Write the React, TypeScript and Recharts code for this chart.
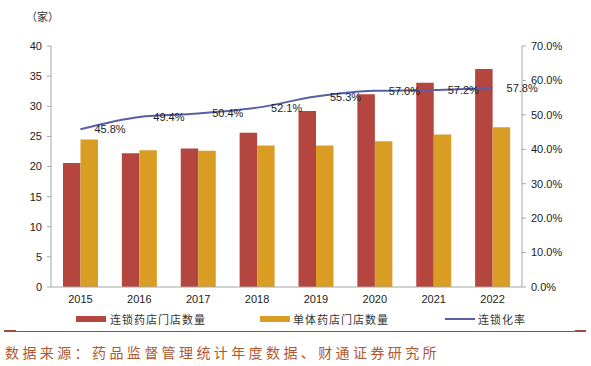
import React from "react";
import { ComposedChart, Bar, Line, XAxis, YAxis, LabelList } from "recharts";

const years = ["2015", "2016", "2017", "2018", "2019", "2020", "2021", "2022"];
const chainStores = [20.6, 22.2, 23.0, 25.6, 29.2, 32.0, 33.9, 36.2];
const singleStores = [24.5, 22.7, 22.6, 23.5, 23.5, 24.2, 25.3, 26.5];
const chainRate = [0.458, 0.494, 0.504, 0.521, 0.553, 0.57, 0.572, 0.578];
const leftTicks = [0, 5, 10, 15, 20, 25, 30, 35, 40];
const rightTicks = [0, 0.1, 0.2, 0.3, 0.4, 0.5, 0.6, 0.7];
const seriesNames = ["连锁药店门店数量", "单体药店门店数量", "连锁化率"];
const unitLabel = "（家）";
const sourceText = "数据来源：药品监督管理统计年度数据、财通证券研究所";

const RED = "#b4463f";
const ORANGE = "#d99d24";
const LINE = "#5a5ea4";

const data = years.map((y, i) => ({
  year: y,
  chain: chainStores[i],
  single: singleStores[i],
  rate: chainRate[i],
}));

const FONT = "'Liberation Sans', Arial, sans-serif";
const CJK = "'Noto Sans CJK SC', sans-serif";

export default function App() {
  return (
    <div style={{ position: "absolute", left: 0, top: 0, width: 591, height: 366, background: "#fff" }}>
      <ComposedChart
        width={591}
        height={312}
        data={data}
        margin={{ top: 46, right: 0, bottom: 0, left: 0 }}
        barGap={0}
      >
        <XAxis
          dataKey="year"
          height={25}
          tickLine={false}
          tickSize={0}
          tickMargin={8}
          axisLine={{ stroke: "#a6a6a6" }}
          tick={{ fontSize: 11, fill: "#222", fontFamily: FONT }}
        />
        <YAxis
          yAxisId="left"
          width={51}
          domain={[0, 40]}
          ticks={leftTicks}
          interval={0}
          tickSize={4}
          tickMargin={5}
          axisLine={{ stroke: "#a6a6a6" }}
          tickLine={{ stroke: "#a6a6a6" }}
          tick={{ fontSize: 11, fill: "#222", fontFamily: FONT }}
        />
        <YAxis
          yAxisId="right"
          orientation="right"
          width={69}
          domain={[0, 0.7]}
          ticks={rightTicks}
          interval={0}
          tickSize={4}
          tickMargin={5}
          axisLine={{ stroke: "#a6a6a6" }}
          tickLine={{ stroke: "#a6a6a6" }}
          tickFormatter={(v: number) => (v * 100).toFixed(1) + "%"}
          tick={{ fontSize: 11, fill: "#222", fontFamily: FONT }}
        />
        <Bar yAxisId="left" dataKey="chain" fill={RED} barSize={17.5} isAnimationActive={false} />
        <Bar yAxisId="left" dataKey="single" fill={ORANGE} barSize={17.5} isAnimationActive={false} />
        <Line
          yAxisId="right"
          dataKey="rate"
          type="monotone"
          stroke={LINE}
          strokeWidth={2}
          dot={false}
          isAnimationActive={false}
        >
          <LabelList
            dataKey="rate"
            position="right"
            offset={14}
            formatter={(v: number) => (v * 100).toFixed(1) + "%"}
            style={{ fontSize: 11, fill: "#222", fontFamily: FONT }}
          />
        </Line>
      </ComposedChart>

      <div style={{ position: "absolute", left: 26, top: 8, fontSize: 11, color: "#333", fontFamily: CJK }}>
        {unitLabel}
      </div>

      {/* Legend */}
      <div style={{ position: "absolute", left: 76, top: 316, width: 30, height: 6, background: RED }} />
      <div style={{ position: "absolute", left: 110, top: 310, fontSize: 11, letterSpacing: 1, color: "#333", fontFamily: CJK, lineHeight: "18px" }}>
        {seriesNames[0]}
      </div>
      <div style={{ position: "absolute", left: 260, top: 316, width: 30, height: 6, background: ORANGE }} />
      <div style={{ position: "absolute", left: 293, top: 310, fontSize: 11, letterSpacing: 1, color: "#333", fontFamily: CJK, lineHeight: "18px" }}>
        {seriesNames[1]}
      </div>
      <div style={{ position: "absolute", left: 445, top: 318, width: 30, height: 2, background: LINE }} />
      <div style={{ position: "absolute", left: 478, top: 310, fontSize: 11, letterSpacing: 1, color: "#333", fontFamily: CJK, lineHeight: "18px" }}>
        {seriesNames[2]}
      </div>

      {/* Separator */}
      <div style={{ position: "absolute", left: 4, top: 331, width: 582, height: 1, background: "#a2493a" }} />
      <div style={{ position: "absolute", left: 4, top: 330, width: 12, height: 2, background: "#a2493a" }} />
      <div style={{ position: "absolute", left: 575, top: 330, width: 11, height: 2, background: "#a2493a" }} />

      <div style={{ position: "absolute", left: 5, top: 341, fontSize: 14, letterSpacing: 3.4, color: "#b0572e", fontFamily: CJK, lineHeight: "22px", whiteSpace: "nowrap" }}>
        {sourceText}
      </div>
    </div>
  );
}
